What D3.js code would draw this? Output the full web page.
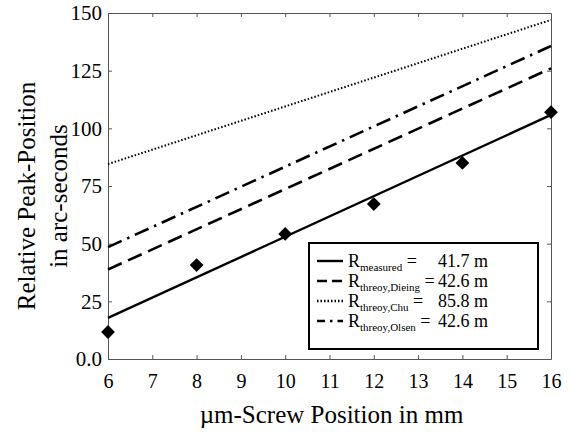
<!DOCTYPE html>
<html>
<head>
	<meta charset="utf-8">
	<title>Peak position</title>
	<script src="https://d3js.org/d3.v7.min.js" charset="utf-8"></script>
	<style>
		body { margin: 0; background: #fff; }
	</style>
</head>
<body>
<script type="text/javascript">
	// screw positions (mm) and measured peak positions (arc-seconds)
	var positions = [6, 8, 10, 12, 14, 16];
	var measured = [11.7, 40.7, 54.2, 67.2, 85, 107];

	// fit / theory lines, value at x = 6 and x = 16
	var lineEnds = [6, 16];
	var lineMeasured = [17.8, 105.8];
	var lineDieing = [38.8, 126];
	var lineChu = [84.5, 147];
	var lineOlsen = [48.5, 135.7];

	var xTicks = [6, 7, 8, 9, 10, 11, 12, 13, 14, 15, 16];
	var yTicks = [0, 25, 50, 75, 100, 125, 150];

	var legendSubs = ["measured", "threoy,Dieing", "threoy,Chu", "threoy,Olsen"];
	var legendValues = ["41.7 m", "42.6 m", "85.8 m", "42.6 m"];

	var FONT = "'Liberation Serif'";

	var svgWidth = 571, svgHeight = 434;
	var margin = {top: 13, right: 20, bottom: 75, left: 108},
		width = svgWidth - margin.left - margin.right,
		height = svgHeight - margin.top - margin.bottom;

	var svg = d3.select("body").append("svg")
		.attr("width", svgWidth)
		.attr("height", svgHeight)
		.attr("font-family", "Liberation Serif");

	var g = svg.append("g")
		.attr("transform", "translate(" + margin.left + "," + margin.top + ")");

	var x = d3.scaleLinear().domain([6, 16]).range([0, width]),
		y = d3.scaleLinear().domain([0, 150]).range([height, 0]);

	// frame with inward ticks on all four sides
	var axisColor = "#555";
	function styleAxis(sel) {
		sel.attr("font-family", "Liberation Serif");
		sel.select(".domain").attr("stroke", axisColor);
		sel.selectAll(".tick line").attr("stroke", axisColor);
		sel.selectAll("text").style("font-family", FONT).attr("fill", "#000");
	}

	g.append("g")
		.attr("transform", "translate(0," + height + ")")
		.call(d3.axisBottom(x).tickValues(xTicks).tickSizeInner(-4).tickSizeOuter(0).tickPadding(15).tickFormat(d3.format("d")))
		.call(styleAxis)
		.selectAll("text").attr("font-size", 20);

	g.append("g")
		.call(d3.axisLeft(y).tickValues(yTicks).tickSizeInner(-4).tickSizeOuter(0).tickPadding(6)
			.tickFormat(function(d) { return d === 0 ? "0.0" : d; }))
		.call(styleAxis)
		.selectAll("text").attr("font-size", 21);

	g.append("g")
		.call(d3.axisTop(x).tickValues(xTicks.slice(1, -1)).tickSizeInner(-4).tickSizeOuter(0).tickFormat(""))
		.call(styleAxis);

	g.append("g")
		.attr("transform", "translate(" + width + ",0)")
		.call(d3.axisRight(y).tickValues(yTicks.slice(1, -1)).tickSizeInner(-4).tickSizeOuter(0).tickFormat(""))
		.call(styleAxis);

	// lines
	var lineGen = d3.line()
		.x(function(d) { return x(d[0]); })
		.y(function(d) { return y(d[1]); });

	var series = [
		{vals: lineChu, dash: "1.5,2", width: 2},
		{vals: lineOlsen, dash: "15,6,2.5,6", width: 2.6},
		{vals: lineDieing, dash: "15,7", width: 2.6},
		{vals: lineMeasured, dash: null, width: 2.4}
	];

	series.forEach(function(s) {
		g.append("path")
			.datum(d3.zip(lineEnds, s.vals))
			.attr("d", lineGen)
			.attr("fill", "none")
			.attr("stroke", "#000")
			.attr("stroke-width", s.width)
			.attr("stroke-dasharray", s.dash);
	});

	// measured points (diamonds)
	g.selectAll(".pt")
		.data(d3.zip(positions, measured))
		.enter()
		.append("path")
		.attr("class", "pt")
		.attr("d", d3.symbol().type(d3.symbolSquare).size(95))
		.attr("transform", function(d) { return "translate(" + x(d[0]) + "," + y(d[1]) + ") rotate(45)"; })
		.attr("fill", "#000");

	// legend
	var lg = svg.append("g").attr("transform", "translate(309,243)");
	lg.append("rect")
		.attr("width", 229).attr("height", 106)
		.attr("fill", "#fff").attr("stroke", "#000").attr("stroke-width", 2);

	var legendDash = [null, "10,5", "1.5,2", "8,5,2.5,5"];
	legendSubs.forEach(function(sub, i) {
		var yy = 24 + i * 20;
		lg.append("line")
			.attr("x1", 8).attr("x2", 34)
			.attr("y1", yy - 6).attr("y2", yy - 6)
			.attr("stroke", "#000").attr("stroke-width", 2.4)
			.attr("stroke-dasharray", legendDash[i]);
		var t = lg.append("text").attr("x", 39).attr("y", yy)
			.style("font-family", FONT).attr("font-size", 18);
		t.append("tspan").text("R");
		t.append("tspan").attr("font-size", 11).attr("dy", 4).text(sub);
		t.append("tspan").attr("dy", -4).text(" =");
		lg.append("text").attr("x", 129).attr("y", yy)
			.style("font-family", FONT).attr("font-size", 18)
			.text(legendValues[i]);
	});

	// axis titles
	svg.append("text")
		.attr("x", margin.left + width / 2 + 2).attr("y", 423)
		.attr("text-anchor", "middle")
		.style("font-family", FONT).attr("font-size", 25)
		.text("µm-Screw Position in mm");

	var yt = svg.append("text")
		.attr("transform", "translate(0,196) rotate(-90)")
		.attr("text-anchor", "middle")
		.style("font-family", FONT).attr("font-size", 25);
	yt.append("tspan").attr("x", 0).attr("y", 35).text("Relative Peak-Position");
	yt.append("tspan").attr("x", 0).attr("y", 67).text("in arc-seconds");
</script>
</body>
</html>
